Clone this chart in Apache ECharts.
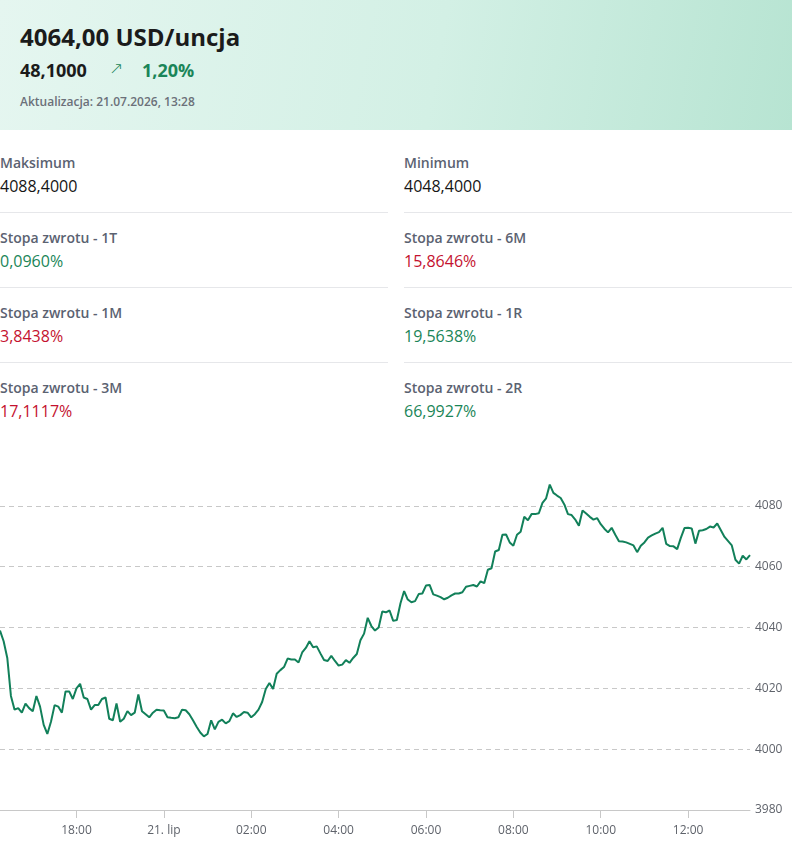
<!DOCTYPE html>
<html>
<head>
<meta charset="utf-8">
<script src="https://cdn.jsdelivr.net/npm/echarts@6/dist/echarts.min.js"></script>
<style>
  html, body { margin: 0; padding: 0; background: #fff; }
  body { width: 792px; height: 865px; position: relative; overflow: hidden; font-family: "Open Sans", sans-serif; }
  .head { position: absolute; left: 0; top: 0; width: 792px; height: 130px;
          background: linear-gradient(100deg, #e5f6f0 0%, #d3f0e5 55%, #b7e4d2 100%); }
  .abs { position: absolute; white-space: nowrap; }
  .price { left: 20px; top: 25px; font-size: 24px; line-height: 24px; font-weight: 700; color: #1b1b1b; }
  .chg { left: 20px; top: 61px; font-size: 18px; line-height: 18px; font-weight: 700; color: #1b1b1b; }
  .arrow { left: 109px; top: 60px; font-size: 17px; line-height: 17px; color: #1a8558; font-family: "DejaVu Sans ExtraLight", "DejaVu Sans", sans-serif; font-weight: 200; }
  .pct { left: 142px; top: 61px; font-size: 18px; line-height: 18px; font-weight: 700; color: #1a8558; }
  .upd { left: 20px; top: 95.5px; font-size: 12px; line-height: 12px; font-weight: 600; color: #6b7079; }
  .lbl { font-size: 14px; line-height: 14px; font-weight: 600; color: #5b6271; }
  .val { font-size: 16px; line-height: 16px; font-weight: 500; color: #151515; }
  .up { color: #1a8558; }
  .down { color: #c4122f; }
  .rule { position: absolute; height: 1px; background: #e6e7ea; }
  #chart { position: absolute; left: 0; top: 440px; width: 792px; height: 425px; }
</style>
</head>
<body>
<div class="head"></div>
<div class="abs price">4064,00 USD/uncja</div>
<div class="abs chg">48,1000</div>
<div class="abs arrow">↗</div>
<div class="abs pct">1,20%</div>
<div class="abs upd">Aktualizacja: 21.07.2026, 13:28</div>
<div id="stats"></div>
<div id="chart"></div>
<script>
// statystyki
var statLabels = ['Maksimum', 'Minimum', 'Stopa zwrotu - 1T', 'Stopa zwrotu - 6M',
                  'Stopa zwrotu - 1M', 'Stopa zwrotu - 1R', 'Stopa zwrotu - 3M', 'Stopa zwrotu - 2R'];
var statValues = ['4088,4000', '4048,4000', '0,0960%', '15,8646%',
                  '3,8438%', '19,5638%', '17,1117%', '66,9927%'];
var statTone = ['', '', 'up', 'down', 'down', 'up', 'down', 'up'];

// notowania co 5 minut (dwa odcinki sesji)
var segStart = ['16:15', '00:00'];
var segCount = [45, 162];
var prices = [
  4039, 4035.5, 4030, 4017.5, 4013, 4013.5, 4012, 4015, 4013.5, 4012.5,
  4017.5, 4014, 4008, 4005, 4009, 4014.5, 4014, 4012, 4019, 4019,
  4016.5, 4020, 4021.5, 4017, 4016.5, 4013, 4014.5, 4014.5, 4016.5, 4017,
  4010, 4009.5, 4015, 4009, 4010, 4012.5, 4011.2, 4012, 4018, 4012.5,
  4011.5, 4010.5, 4012, 4013, 4012.8, 4012.7, 4010.5, 4010.3, 4010.2, 4010.5,
  4013, 4012.8, 4011.5, 4009.5, 4007.4, 4005.5, 4004.2, 4005, 4009.5, 4006.5,
  4009, 4009.7, 4008.5, 4009.2, 4011.8, 4010.6, 4011.2, 4012.2, 4012, 4010.5,
  4011.5, 4013, 4015.5, 4019.8, 4021.8, 4019.8, 4024.8, 4026, 4027, 4029.8,
  4029.5, 4029.5, 4028.5, 4031.8, 4033.3, 4035.5, 4033.5, 4033.8, 4031.5, 4029.3,
  4029, 4030.7, 4029, 4027.5, 4027.8, 4029.3, 4028.4, 4030, 4031.3, 4035.8,
  4038, 4043.2, 4040.5, 4039, 4040, 4045.3, 4045, 4045.6, 4042.2, 4042.5,
  4048, 4052, 4049.2, 4048.3, 4048.7, 4051, 4051.2, 4053.8, 4054, 4050.9,
  4050.5, 4050, 4049.3, 4049.8, 4050.6, 4051.2, 4051.2, 4051.6, 4053.4, 4053.7,
  4054, 4053.5, 4055.2, 4054.6, 4059, 4059.5, 4065, 4065.5, 4070.5, 4070.6,
  4068, 4066.9, 4070.5, 4071.5, 4076.4, 4075.3, 4077.3, 4077.3, 4077.6, 4081,
  4082.5, 4087, 4084.3, 4083.4, 4082.6, 4080.5, 4077.3, 4077, 4075.5, 4073.5,
  4078.5, 4077.5, 4076.4, 4075.5, 4076, 4074, 4072.5, 4071.3, 4072.8, 4070.5,
  4068.4, 4068.3, 4068, 4067.5, 4067, 4064.8, 4066.9, 4068, 4069.6, 4070.3,
  4070.9, 4071.4, 4072.8, 4067.5, 4066.8, 4066.7, 4065.8, 4069.5, 4072.7, 4072.8,
  4072.6, 4067.6, 4071.8, 4072, 4072.4, 4073.2, 4072.9, 4074.2, 4072, 4069.8,
  4068.4, 4067, 4062.3, 4061, 4063.6, 4062.4, 4063.8
];
var tickTimes = ['18:00', '00:00', '02:00', '04:00', '06:00', '08:00', '10:00', '12:00'];
var tickTexts = ['18:00', '21. lip', '02:00', '04:00', '06:00', '08:00', '10:00', '12:00'];

function pad(n) { return (n < 10 ? '0' : '') + n; }
function buildTimes() {
    var out = [];
    for (var s = 0; s < segStart.length; s++) {
        var p = segStart[s].split(':');
        var m = parseInt(p[0], 10) * 60 + parseInt(p[1], 10);
        for (var k = 0; k < segCount[s]; k++) {
            var t = (m + k * 5) % 1440;
            out.push(pad(Math.floor(t / 60)) + ':' + pad(t % 60));
        }
    }
    return out;
}
var times = buildTimes();

// siatka statystyk
(function () {
    var box = document.getElementById('stats');
    var html = '';
    for (var i = 0; i < statLabels.length; i++) {
        var col = i % 2, row = Math.floor(i / 2);
        var x = col ? 404 : 0;
        var y = 156 + row * 75;
        html += '<div class="abs lbl" style="left:' + x + 'px;top:' + y + 'px">' + statLabels[i] + '</div>';
        html += '<div class="abs val ' + statTone[i] + '" style="left:' + x + 'px;top:' + (y + 21.5) + 'px">' + statValues[i] + '</div>';
        if (row < 3) {
            html += '<div class="rule" style="left:' + x + 'px;top:' + (212 + row * 75) + 'px;width:388px"></div>';
        }
    }
    box.innerHTML = html;
})();

var chart = echarts.init(document.getElementById('chart'), null, { renderer: 'canvas' });
chart.setOption({
    animation: false,
    grid: { left: 0, right: 42, top: 35.5, bottom: 55 },
    xAxis: {
        type: 'category',
        data: times,
        boundaryGap: false,
        axisLine: { lineStyle: { color: '#c8c8c8', width: 1 } },
        axisTick: { length: 8, lineStyle: { color: '#c8c8c8' } },
        axisLabel: {
            margin: 15,
            color: '#5f636b',
            fontSize: 12,
            fontFamily: 'Open Sans',
            interval: function (idx, val) { return tickTimes.indexOf(val) >= 0; },
            formatter: function (val) {
                var j = tickTimes.indexOf(val);
                return j >= 0 ? tickTexts[j] : '';
            }
        },
        splitLine: { show: false }
    },
    yAxis: {
        type: 'value',
        position: 'right',
        min: 3980,
        max: 4090,
        interval: 20,
        axisLine: { show: false },
        axisTick: { show: false },
        axisLabel: {
            margin: 5,
            color: '#5f636b',
            fontSize: 12,
            fontFamily: 'Open Sans',
            showMaxLabel: false,
            formatter: function (v) { return String(v); }
        },
        splitLine: {
            show: true,
            showMinLine: false,
            showMaxLine: false,
            lineStyle: { color: '#c8c8c8', type: [5, 4], width: 1 }
        }
    },
    series: [{
        type: 'line',
        data: prices,
        showSymbol: false,
        symbol: 'none',
        lineStyle: { color: '#12805a', width: 2 },
        itemStyle: { color: '#12805a' }
    }]
});
</script>
</body>
</html>
